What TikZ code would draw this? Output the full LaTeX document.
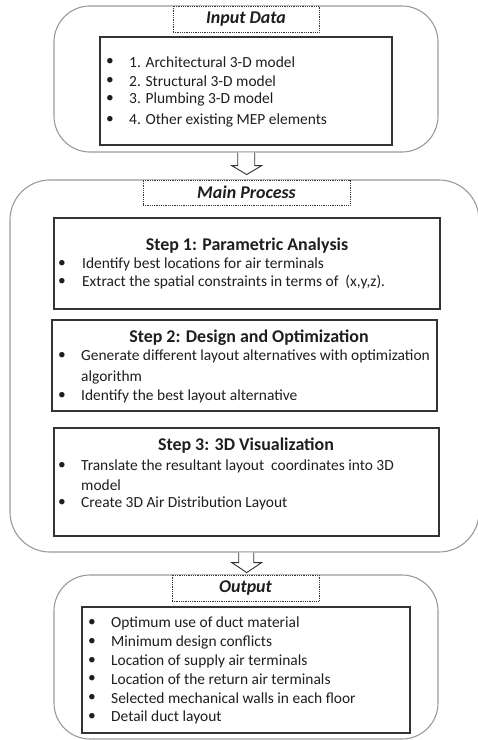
\documentclass[tikz,border=0pt]{standalone}
\usepackage{fontspec}
\setmainfont{Carlito}
\usetikzlibrary{calc}
\definecolor{outergray}{HTML}{9A9A9A}
\definecolor{innerline}{HTML}{333333}
\definecolor{txt}{HTML}{1E1E1E}
\begin{document}
\begin{tikzpicture}[x=1bp,y=-1bp,
  outerbox/.style={draw=outergray, line width=1.1bp, rounded corners=36bp, inner sep=0},
  innerbox/.style={draw=innerline, line width=1.3bp, inner sep=0},
  titlebox/.style={draw=innerline, densely dotted, line width=0.8bp, inner sep=0, fill=white,
    font=\bfseries\itshape\fontsize{18}{20}\selectfont, text=txt},
  bodytext/.style={font=\fontsize{15.5}{18}\selectfont, anchor=west, inner sep=0, text=txt},
  bul/.style={font=\fontsize{15.5}{18}\selectfont, inner sep=0, text=txt},
  steptitle/.style={font=\bfseries\fontsize{18}{20}\selectfont, inner sep=0, text=txt},
  hollow/.style={draw=innerline, fill=white, line width=0.9bp, line join=miter}
]
\useasboundingbox (0,0) rectangle (478,740);

% ---------- Input ----------
\node[outerbox, minimum width=384bp, minimum height=146bp] (inouter) at (246,79) {};
\node[innerbox, minimum width=292bp, minimum height=108bp] (ininner) at (246,91) {};
\node[titlebox, minimum width=146bp, minimum height=26bp] (intitle) at (246,19) {Input Data};
\foreach \yy/\tt [count=\i] in {62/1. Architectural 3-D model, 81/2. Structural 3-D model, 99/3. Plumbing 3-D model, 120/4. Other existing MEP elements}{
  \node[bul] (inb\i) at (110,\yy) {•};
  \node[bodytext] (int\i) at (129,\yy) {\tt};
}

% ---------- Main ----------
\node[outerbox, rounded corners=40bp, minimum width=469bp, minimum height=372bp] (mainouter) at (244.5,366) {};
\node[titlebox, minimum width=207bp, minimum height=25bp] (maintitle) at (246.5,192.5) {Main Process};

\node[innerbox, minimum width=386bp, minimum height=91bp] (s1) at (247,263.5) {};
\node[steptitle] (s1t) at (247,246) {Step 1: Parametric Analysis};
\node[bul] (s1b1) at (62,264) {•};
\node[bodytext] (s1x1) at (82,264) {Identify best locations for air terminals};
\node[bul] (s1b2) at (62,282) {•};
\node[bodytext] (s1x2) at (82,282) {Extract the spatial constraints in terms of \ (x,y,z).};

\node[innerbox, minimum width=385bp, minimum height=91bp] (s2) at (244.5,365.5) {};
\node[steptitle] (s2t) at (249,338) {Step 2: Design and Optimization};
\node[bul] (s2b1) at (62,356) {•};
\node[bodytext] (s2x1) at (81,356) {Generate different layout alternatives with optimization};
\node[bodytext] (s2x1b) at (81,377) {algorithm};
\node[bul] (s2b2) at (62,396) {•};
\node[bodytext] (s2x2) at (81,396) {Identify the best layout alternative};

\node[innerbox, minimum width=385bp, minimum height=108bp] (s3) at (246.5,482) {};
\node[steptitle] (s3t) at (246,446) {Step 3: 3D Visualization};
\node[bul] (s3b1) at (62,466) {•};
\node[bodytext] (s3x1) at (81,466) {Translate the resultant layout \ coordinates into 3D};
\node[bodytext] (s3x1b) at (81,485) {model};
\node[bul] (s3b2) at (62,503) {•};
\node[bodytext] (s3x2) at (81,503) {Create 3D Air Distribution Layout};

% ---------- Output ----------
\node[outerbox, minimum width=384bp, minimum height=164bp] (outouter) at (246,657) {};
\node[innerbox, minimum width=328bp, minimum height=126bp] (outinner) at (246,670) {};
\node[titlebox, minimum width=147bp, minimum height=26bp] (outtitle) at (245.5,588) {Output};
\foreach \yy/\tt [count=\i] in {623/Optimum use of duct material, 642/Minimum design conflicts, 661/Location of supply air terminals, 679/Location of the return air terminals, 698/Selected mechanical walls in each floor, 717/Detail duct layout}{
  \node[bul] (ob\i) at (92,\yy) {•};
  \node[bodytext] (ot\i) at (111,\yy) {\tt};
}

% ---------- Hollow arrows ----------
\coordinate (a1s) at (inouter.south -| 246.7,0);
\coordinate (a1t) at ($(maintitle.north -| 246.7,0)+(0,-5)$);
\draw[hollow] ($(a1s)+(-9,0)$) -- ($(a1s)+(-9,13)$) -- ($(a1s)+(-15,13)$) -- (a1t)
  -- ($(a1s)+(15,13)$) -- ($(a1s)+(8,13)$) -- ($(a1s)+(8,0)$);

\coordinate (a2s) at (mainouter.south -| 246.7,0);
\coordinate (a2t) at ($(outtitle.north -| 246.7,0)+(0,-2)$);
\draw[hollow] ($(a2s)+(-8,0)$) -- ($(a2s)+(-8,10)$) -- ($(a2s)+(-15,10)$) -- (a2t)
  -- ($(a2s)+(15,10)$) -- ($(a2s)+(7,10)$) -- ($(a2s)+(7,0)$);
\end{tikzpicture}
\end{document}
